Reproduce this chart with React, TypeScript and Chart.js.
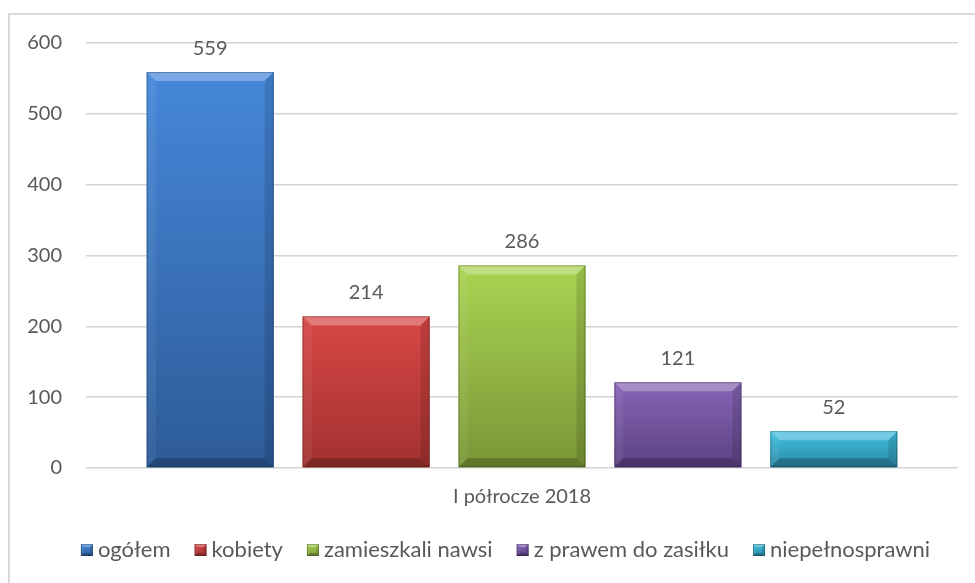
import React, { useEffect, useRef } from "react";
import { Chart, registerables } from "chart.js";

Chart.register(...registerables);

const categories = ["I półrocze 2018"];
const seriesNames = ["ogółem", "kobiety", "zamieszkali nawsi", "z prawem do zasiłku", "niepełnosprawni"];
const seriesValues = [[559], [214], [286], [121], [52]];
const seriesTop = ["#4688da", "#d84745", "#aad452", "#8764b6", "#40c0e0"];
const seriesBottom = ["#2d5b97", "#a23230", "#7a9737", "#5c4283", "#2a8aa6"];
const yTicks = [0, 100, 200, 300, 400, 500, 600];

const FONT = "Lato, 'Open Sans', sans-serif";
const FONT_SIZE = 20;
const LEGEND_SIZE = 22;
const TEXT = "#595959";

function bevelRect(ctx: CanvasRenderingContext2D, l: number, t: number, r: number, b: number, top: string, bottom: string, s: number) {
  const g = ctx.createLinearGradient(0, t, 0, b);
  g.addColorStop(0, top);
  g.addColorStop(1, bottom);
  ctx.fillStyle = g;
  ctx.fillRect(l, t, r - l, b - t);
  const ss = Math.min(s, (b - t) / 2, (r - l) / 2);
  const poly = (pts: number[][], fill: string) => {
    ctx.beginPath();
    ctx.moveTo(pts[0][0], pts[0][1]);
    for (let i = 1; i < pts.length; i++) ctx.lineTo(pts[i][0], pts[i][1]);
    ctx.closePath();
    ctx.fillStyle = fill;
    ctx.fill();
  };
  poly([[l, t], [r, t], [r - ss, t + ss], [l + ss, t + ss]], "rgba(255,255,255,0.28)");
  poly([[l, t], [l + ss, t + ss], [l + ss, b - ss], [l, b]], "rgba(255,255,255,0.06)");
  poly([[r, t], [r, b], [r - ss, b - ss], [r - ss, t + ss]], "rgba(0,0,0,0.12)");
  poly([[l, b], [r, b], [r - ss, b - ss], [l + ss, b - ss]], "rgba(0,0,0,0.22)");
  ctx.strokeStyle = "rgba(0,0,0,0.25)";
  ctx.lineWidth = 1;
  ctx.strokeRect(l + 0.5, t + 0.5, r - l - 1, b - t - 1);
}

const bevelPlugin = {
  id: "bevelBars",
  afterDatasetsDraw(chart: any) {
    const ctx = chart.ctx as CanvasRenderingContext2D;
    chart.data.datasets.forEach((ds: any, di: number) => {
      const meta = chart.getDatasetMeta(di);
      meta.data.forEach((el: any, j: number) => {
        const { x, y, base, width } = el.getProps(["x", "y", "base", "width"], true);
        const l = x - width / 2;
        const r = x + width / 2;
        ctx.save();
        bevelRect(ctx, l, y, r, base, seriesTop[di], seriesBottom[di], 9);
        ctx.fillStyle = TEXT;
        ctx.font = `${FONT_SIZE}px ${FONT}`;
        ctx.textAlign = "center";
        ctx.textBaseline = "alphabetic";
        ctx.fillText(String(ds.data[j]), x, y - 17);
        ctx.restore();
      });
    });
  },
};

const legendPlugin = {
  id: "customLegend",
  afterDraw(chart: any) {
    const ctx = chart.ctx as CanvasRenderingContext2D;
    ctx.save();
    ctx.font = `${LEGEND_SIZE}px ${FONT}`;
    const box = 12;
    const gapText = 5;
    const gapItem = 24;
    const widths = seriesNames.map((n) => ctx.measureText(n).width);
    const total = widths.reduce((a, w) => a + box + gapText + w, 0) + gapItem * (seriesNames.length - 1);
    let x = chart.width / 2 + 18 - total / 2;
    const cy = 550;
    seriesNames.forEach((n, i) => {
      bevelRect(ctx, x, cy - 6, x + box, cy + 6, seriesTop[i], seriesBottom[i], 3);
      ctx.fillStyle = TEXT;
      ctx.textAlign = "left";
      ctx.textBaseline = "middle";
      ctx.fillText(n, x + box + gapText, cy);
      x += box + gapText + widths[i] + gapItem;
    });
    ctx.restore();
  },
};

const framePlugin = {
  id: "frame",
  beforeDraw(chart: any) {
    const ctx = chart.ctx as CanvasRenderingContext2D;
    ctx.save();
    ctx.fillStyle = "#ffffff";
    ctx.fillRect(0, 0, chart.width, chart.height);
    ctx.strokeStyle = "#d9d9d9";
    ctx.lineWidth = 2;
    ctx.beginPath();
    ctx.moveTo(9, chart.height);
    ctx.lineTo(9, 14);
    ctx.lineTo(chart.width, 14);
    ctx.stroke();
    ctx.restore();
  },
};

export default function App() {
  const ref = useRef<HTMLCanvasElement>(null);
  useEffect(() => {
    if (!ref.current) return;
    const chart = new Chart(ref.current, {
      type: "bar",
      data: {
        labels: categories,
        datasets: seriesNames.map((name, i) => ({
          label: name,
          data: seriesValues[i],
          backgroundColor: seriesTop[i],
          categoryPercentage: 0.894,
          barPercentage: 0.814,
        })),
      },
      options: {
        animation: false,
        responsive: false,
        layout: { padding: { top: 43, right: 17, left: 0, bottom: 65 } },
        plugins: {
          tooltip: { enabled: false },
          legend: { display: false },
        },
        scales: {
          x: {
            grid: { display: false },
            border: { display: false },
            ticks: { font: { family: FONT, size: FONT_SIZE }, color: TEXT, padding: 9 },
          },
          y: {
            min: 0,
            max: 600,
            afterFit: (s: any) => {
              s.width = 86;
            },
            afterBuildTicks: (s: any) => {
              s.ticks = yTicks.map((v) => ({ value: v }));
            },
            border: { display: false },
            grid: { color: "#d4d4d4", lineWidth: 1.5, drawTicks: false },
            ticks: { font: { family: FONT, size: FONT_SIZE }, color: TEXT, padding: 24 },
          },
        },
      },
      plugins: [framePlugin, bevelPlugin, legendPlugin],
    });
    return () => chart.destroy();
  }, []);
  return (
    <div style={{ position: "fixed", left: 0, top: 0, width: 975, height: 583 }}>
      <canvas ref={ref} width={975} height={583} style={{ display: "block" }} />
    </div>
  );
}
